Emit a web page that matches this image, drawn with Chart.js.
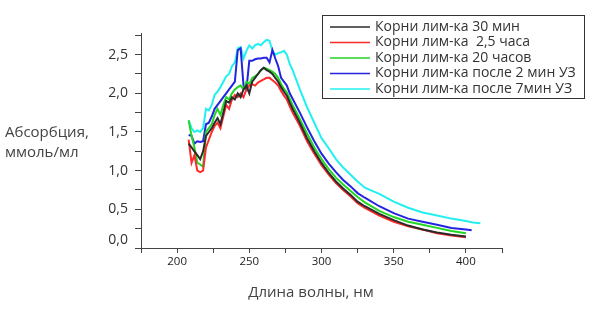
<!DOCTYPE html>
<html>
<head>
<meta charset="utf-8">
<script src="https://cdn.jsdelivr.net/npm/chart.js@4.4.1/dist/chart.umd.min.js"></script>
<style>
  html, body { margin: 0; padding: 0; background: #ffffff; }
  #wrap { width: 593px; height: 317px; }
</style>
</head>
<body>
<div id="wrap"><canvas id="c" width="593" height="317"></canvas></div>
<script>
// ---- data ----
const wl = [208,210,212,214,216,218,220,222,224,226,228,230,232,234,236,238,240,242,244,246,248,250,252,254,256,258,260,262,264,266,268,270,272,274,276,278,280,285,290,295,300,305,310,315,320,325,330,340,350,360,370,380,390,400];

const series30min = [1.35,1.3,1.25,1.2,1.15,1.25,1.45,1.5,1.55,1.62,1.68,1.6,1.75,1.9,1.88,1.95,1.92,2.0,1.95,2.05,2.1,2.0,2.15,2.2,2.25,2.3,2.33,2.3,2.28,2.25,2.2,2.15,2.08,2.02,1.97,1.88,1.8,1.62,1.42,1.25,1.1,0.97,0.86,0.77,0.69,0.6,0.54,0.44,0.36,0.29,0.24,0.2,0.17,0.15];
const series25h = [1.4,1.1,1.2,1.0,0.98,1.0,1.3,1.4,1.5,1.58,1.62,1.55,1.7,1.85,1.8,1.92,1.98,1.95,2.0,1.95,2.05,2.1,2.12,2.1,2.14,2.16,2.18,2.2,2.2,2.17,2.14,2.1,2.03,1.97,1.92,1.83,1.75,1.58,1.38,1.22,1.07,0.95,0.84,0.75,0.67,0.58,0.52,0.42,0.34,0.28,0.24,0.19,0.16,0.14];
const series20h = [1.65,1.45,1.3,1.1,1.08,1.05,1.5,1.55,1.6,1.72,1.8,1.72,1.85,1.95,1.92,2.0,2.05,2.08,2.1,2.05,2.15,2.12,2.2,2.22,2.25,2.3,2.33,2.32,2.3,2.28,2.25,2.2,2.12,2.06,2.01,1.93,1.85,1.67,1.48,1.3,1.15,1.02,0.91,0.82,0.74,0.66,0.59,0.48,0.4,0.34,0.3,0.26,0.22,0.19];
const series2minUZ = [1.46,1.45,1.35,1.38,1.37,1.38,1.6,1.62,1.7,1.8,1.85,1.9,1.95,2.0,2.05,2.1,2.15,2.56,2.58,2.1,2.05,2.42,2.42,2.44,2.45,2.45,2.46,2.46,2.4,2.56,2.45,2.35,2.2,2.15,2.1,2.0,1.93,1.75,1.56,1.38,1.22,1.09,0.98,0.88,0.8,0.71,0.65,0.54,0.45,0.38,0.34,0.3,0.26,0.24];
const series7minUZ = [1.65,1.55,1.5,1.52,1.5,1.55,1.8,1.78,1.85,1.98,2.02,2.08,2.15,2.22,2.25,2.35,2.4,2.58,2.6,2.45,2.55,2.62,2.58,2.62,2.64,2.62,2.66,2.69,2.68,2.55,2.5,2.52,2.53,2.55,2.5,2.38,2.3,2.05,1.82,1.62,1.42,1.29,1.15,1.04,0.95,0.86,0.78,0.7,0.6,0.52,0.46,0.42,0.38,0.35];

// tails that run past 400 nm
const blueTailX = [404];
const blueTailY = [0.23];
const cyanTailX = [405, 410];
const cyanTailY = [0.33, 0.32];

const seriesLabels = [
  'Корни лим-ка 30 мин',
  'Корни лим-ка  2,5 часа',
  'Корни лим-ка 20 часов',
  'Корни лим-ка после 2 мин УЗ',
  'Корни лим-ка после 7мин УЗ'
];
const seriesColors = ['#2b2b2b', '#ff2a2a', '#22d622', '#2323e0', '#22f0f0'];

const xTickValues = [175,200,225,250,275,300,325,350,375,400,425];
const xTickLabels = [200,250,300,350,400];
const yTickValues = [0,0.25,0.5,0.75,1.0,1.25,1.5,1.75,2.0,2.25,2.5,2.75];
const yTickLabels = [0,0.5,1.0,1.5,2.0,2.5];

const xTitle = 'Длина волны, нм';
const yTitleLines = ['Абсорбция,', 'ммоль/мл'];

// ---- build datasets ----
function pts(xs, ys) { return xs.map((x, i) => ({ x: x, y: ys[i] })); }
const seriesData = [
  pts(wl, series30min),
  pts(wl, series25h),
  pts(wl, series20h),
  pts(wl.concat(blueTailX), series2minUZ.concat(blueTailY)),
  pts(wl.concat(cyanTailX), series7minUZ.concat(cyanTailY))
];
const drawOrder = [1, 2, 3, 4, 5];

const datasets = seriesData.map((d, i) => ({
  label: seriesLabels[i],
  data: d,
  borderColor: seriesColors[i],
  backgroundColor: seriesColors[i],
  borderWidth: 2,
  pointRadius: 0,
  tension: 0,
  fill: false,
  order: drawOrder[i]
}));

function fmt(v) { return v.toFixed(1).replace('.', ','); }
function near(a, list) { return list.some(b => Math.abs(a - b) < 1e-6); }

const textPlugin = {
  id: 'texts',
  afterDraw(chart) {
    const ctx = chart.ctx;
    ctx.save();
    // y title (horizontal, left)
    ctx.fillStyle = '#444';
    ctx.font = '15px "Open Sans"';
    ctx.textAlign = 'left';
    ctx.textBaseline = 'middle';
    ctx.fillText(yTitleLines[0], 5, 133);
    ctx.fillText(yTitleLines[1], 5, 153);
    // x title
    ctx.font = '15px "Open Sans"';
    ctx.textAlign = 'center';
    ctx.fillText(xTitle, 311, 293);
    // legend box
    const bx = 322.5, by = 15.5, bw = 262, bh = 83;
    ctx.fillStyle = '#ffffff';
    ctx.fillRect(bx, by, bw, bh);
    ctx.strokeStyle = '#333';
    ctx.lineWidth = 1;
    ctx.strokeRect(bx, by, bw, bh);
    ctx.font = '14px "Open Sans"';
    ctx.textAlign = 'left';
    ctx.textBaseline = 'middle';
    chart.data.datasets.forEach((ds, i) => {
      const y = 27 + i * 15.5;
      ctx.strokeStyle = ds.borderColor;
      ctx.lineWidth = 1.6;
      ctx.beginPath();
      ctx.moveTo(330, y);
      ctx.lineTo(370, y);
      ctx.stroke();
      ctx.fillStyle = '#333';
      ctx.fillText(ds.label, 375, y);
    });
    ctx.restore();
  }
};

new Chart(document.getElementById('c'), {
  type: 'line',
  data: { datasets: datasets },
  options: {
    responsive: false,
    animation: false,
    events: [],
    layout: { padding: { top: 33, right: 91, left: 0, bottom: 0 } },
    plugins: { legend: { display: false }, tooltip: { enabled: false }, title: { display: false } },
    scales: {
      x: {
        type: 'linear',
        min: 175,
        max: 425,
        afterBuildTicks(scale) { scale.ticks = xTickValues.map(v => ({ value: v })); },
        afterFit(scale) { scale.height = 69; },
        border: { display: true, color: '#444', width: 1 },
        grid: { drawOnChartArea: false, drawTicks: true, tickLength: 5, color: '#444' },
        ticks: {
          autoSkip: false,
          maxRotation: 0,
          padding: 2,
          color: '#222',
          font: { family: '"Open Sans"', size: 11.5 },
          callback(v) { return near(v, xTickLabels) ? String(v) : ''; }
        }
      },
      y: {
        type: 'linear',
        min: 0,
        max: 2.78,
        afterBuildTicks(scale) { scale.ticks = yTickValues.map(v => ({ value: v })); },
        afterFit(scale) { scale.width = 141; },
        border: { display: true, color: '#444', width: 1 },
        grid: { drawOnChartArea: false, drawTicks: true, tickLength: 6, color: '#444' },
        ticks: {
          autoSkip: false,
          padding: 7,
          color: '#333',
          font: { family: '"Open Sans"', size: 14 },
          callback(v) {
            if (!near(v, yTickLabels)) return '';
            if (Math.abs(v) < 1e-6) return [fmt(v), ''];
            return fmt(v);
          }
        }
      }
    }
  },
  plugins: [textPlugin]
});
</script>
</body>
</html>
